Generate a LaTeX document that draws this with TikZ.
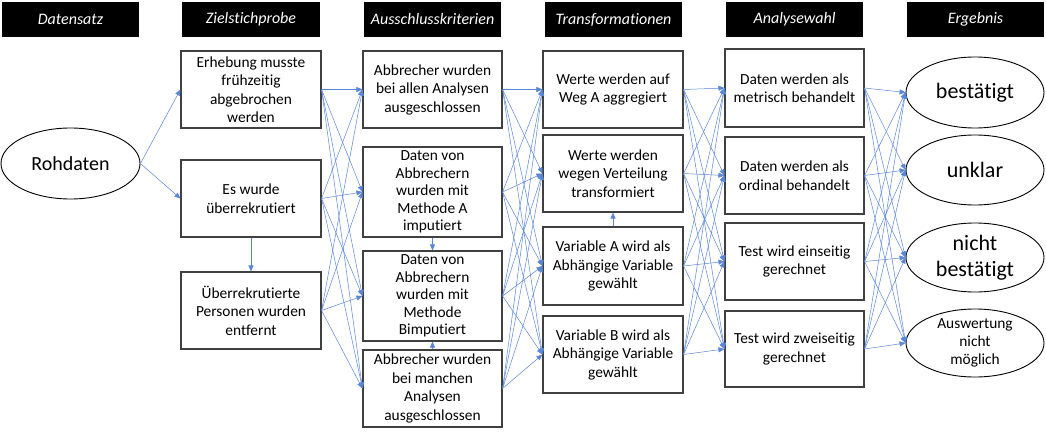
\documentclass[tikz,border=0pt]{standalone}
\usepackage{fontspec}
\setmainfont{Carlito}[Ligatures={NoCommon}]
\usetikzlibrary{arrows.meta,shapes.geometric}
\definecolor{arr}{HTML}{5A86D6}
\definecolor{boxline}{HTML}{404040}
\begin{document}
\begin{tikzpicture}[x=1pt,y=-1pt,
 hdr/.style={fill=black,inner sep=0pt,text=white,font=\fontsize{16}{18}\selectfont\itshape,minimum width=137pt,minimum height=35pt},
 box/.style={draw=boxline,line width=1.1pt,fill=white,inner sep=0pt,align=center,font=\fontsize{15.4}{18.5}\selectfont,minimum width=140pt,minimum height=77pt},
 ell/.style={ellipse,draw=black,line width=0.9pt,fill=white,inner sep=0pt,minimum width=138pt,minimum height=71pt},
 big/.style={align=center,font=\fontsize{22}{26}\selectfont,inner sep=0pt},
 small/.style={align=center,font=\fontsize{15.4}{18}\selectfont,inner sep=0pt},
 con/.style={draw=arr,line width=0.5pt,-{Triangle[length=6pt,width=5pt]}}
]
\useasboundingbox (0,0) rectangle (1046,436);
% headers
\node[hdr] (h1) at (70.5,19.5) {Datensatz};
\node[hdr,minimum width=138pt] (h2) at (251,19.5) {Zielstichprobe};
\node[hdr] (h3) at (432.5,19.5) {Ausschlusskriterien};
\node[hdr] (h4) at (613.5,19.5) {Transformationen};
\node[hdr] (h5) at (794.5,19.5) {Analysewahl};
\node[hdr] (h6) at (975.5,19.5) {Ergebnis};
% Datensatz
\node[ell,minimum width=139pt,minimum height=71pt,label={[big,font=\fontsize{20}{24}\selectfont]center:Rohdaten}] (rd) at (70.5,163.5) {};
% Zielstichprobe
\node[box] (z1) at (251,89.5) {Erhebung musste\\frühzeitig\\abgebrochen\\werden};
\node[box] (z2) at (251,198.5) {Es wurde\\überrekrutiert};
\node[box] (z3) at (251,310.5) {Überrekrutierte\\Personen wurden\\entfernt};
% Ausschlusskriterien
\node[box,minimum width=139pt] (a1) at (432.5,89.5) {Abbrecher wurden\\bei allen Analysen\\ausgeschlossen};
\node[box,minimum width=139pt,minimum height=90pt,font=\fontsize{15.4}{17.6}\selectfont] (a2) at (432.5,192) {Daten von\\Abbrechern\\wurden mit\\Methode A\\imputiert};
\node[box,minimum width=139pt,minimum height=90pt,font=\fontsize{15.4}{17.6}\selectfont] (a3) at (432.5,296) {Daten von\\Abbrechern\\wurden mit\\Methode\\Bimputiert};
\node[box,minimum width=139pt] (a4) at (432.5,388.5) {Abbrecher wurden\\bei manchen\\Analysen\\ausgeschlossen};
% Transformationen
\node[box] (t1) at (613,89.5) {Werte werden auf\\Weg A aggregiert};
\node[box] (t2) at (613,173.5) {Werte werden\\wegen Verteilung\\transformiert};
\node[box,minimum height=78pt] (t3) at (613,266) {Variable A wird als\\Abhängige Variable\\gewählt};
\node[box] (t4) at (613,354.5) {Variable B wird als\\Abhängige Variable\\gewählt};
% Analysewahl
\node[box,minimum width=139pt,minimum height=78pt] (w1) at (794.5,88) {Daten werden als\\metrisch behandelt};
\node[box,minimum width=139pt] (w2) at (794.5,175.5) {Daten werden als\\ordinal behandelt};
\node[box,minimum width=139pt] (w3) at (794.5,261.5) {Test wird einseitig\\gerechnet};
\node[box,minimum width=139pt,minimum height=76pt] (w4) at (794.5,349) {Test wird zweiseitig\\gerechnet};
% Ergebnis
\node[ell,label={[big]center:bestätigt}] (e1) at (975,92.5) {};
\node[ell,minimum height=70pt,label={[big]center:unklar}] (e2) at (975,170) {};
\node[ell,minimum height=69pt,label={[big]center:nicht\\bestätigt}] (e3) at (975,257.5) {};
\node[ell,minimum height=68pt,label={[small]center:Auswertung\\nicht\\möglich}] (e4) at (975,343) {};
% connectors
\draw[con] (rd.east) -- (z1.west);
\draw[con] (rd.east) -- (z2.west);
\draw[con] (z2.south) -- (z3.north);
\draw[con] (a2.south) -- (a3.north);
\draw[con] (a4.north) -- (a3.south);
\draw[con] (t3.north) -- (t2.south);
\foreach \s in {z1,z2,z3}{\foreach \d in {a1,a2,a3,a4}{\draw[con] (\s.east) -- (\d.west);}}
\foreach \s in {a1,a2,a3,a4}{\foreach \d in {t1,t2,t3,t4}{\draw[con] (\s.east) -- (\d.west);}}
\foreach \s in {t1,t2,t3,t4}{\foreach \d in {w1,w2,w3,w4}{\draw[con] (\s.east) -- (\d.west);}}
\foreach \s in {w1,w2,w3,w4}{\foreach \d in {e1,e2,e3,e4}{\draw[con] (\s.east) -- (\d.west);}}
\end{tikzpicture}
\end{document}
